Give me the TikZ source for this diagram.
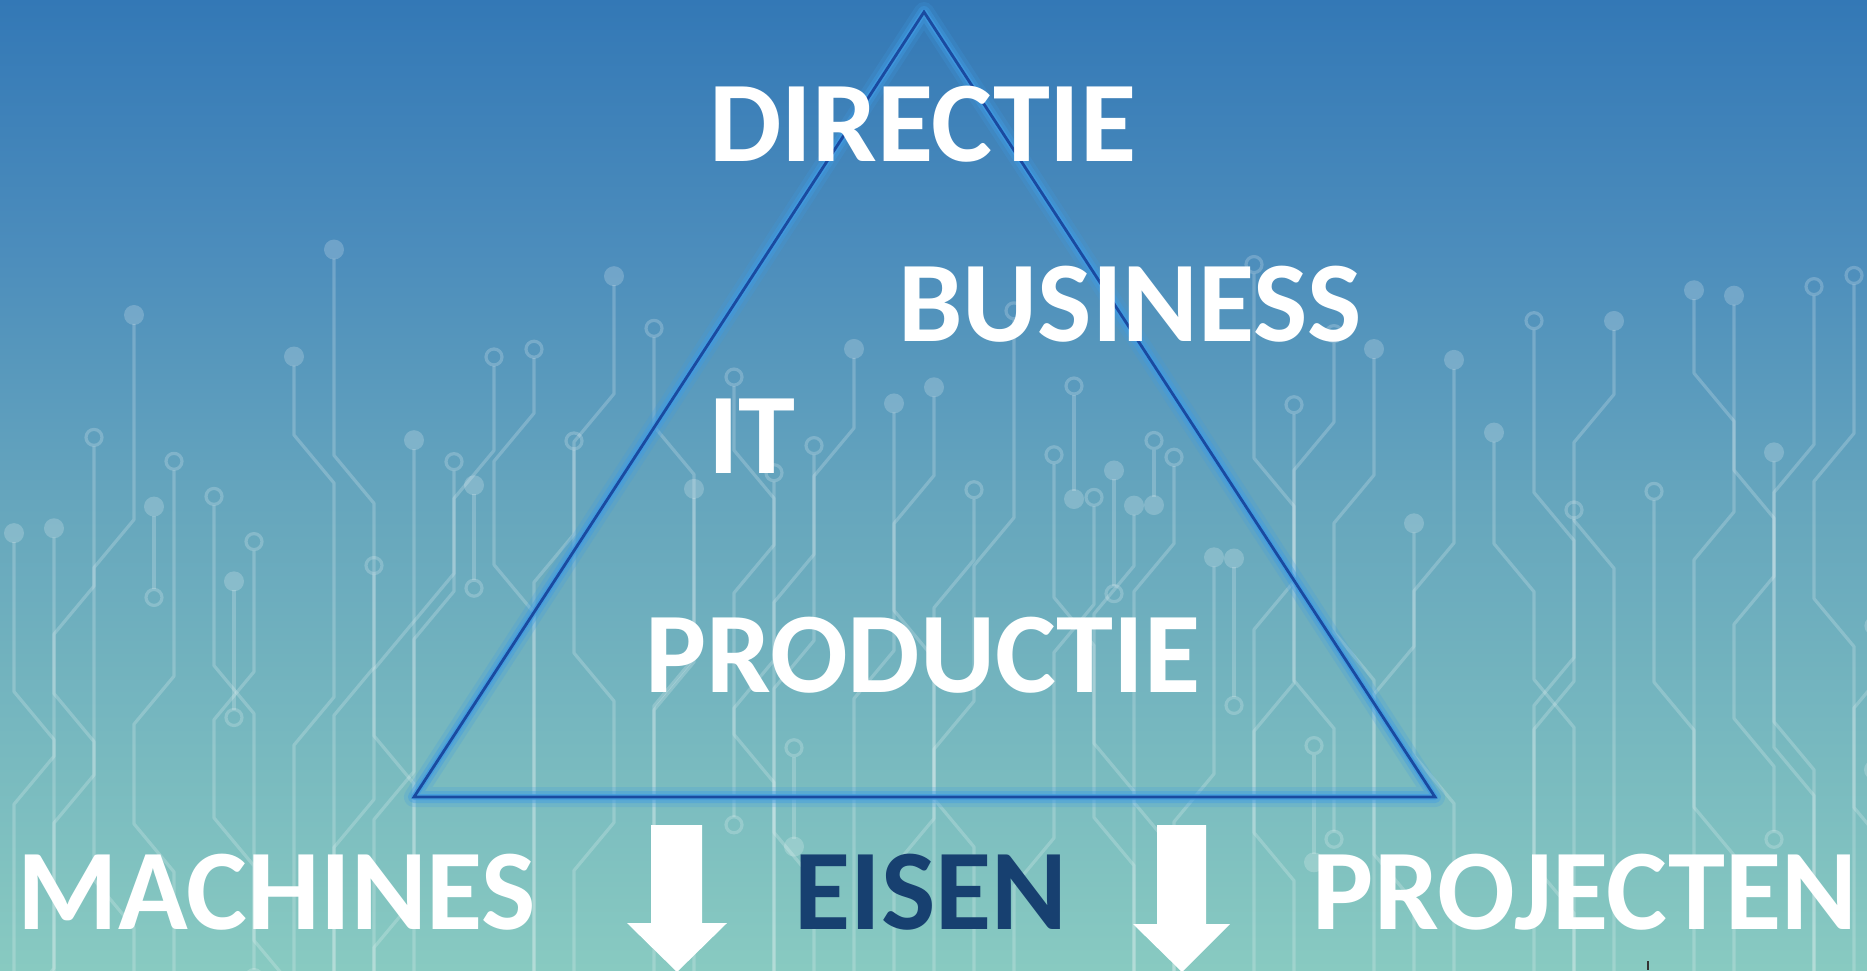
\documentclass[tikz,border=0pt]{standalone}
\usepackage{fontspec}
\setmainfont{Carlito}
\definecolor{ctop}{RGB}{51,120,182}
\definecolor{cup}{RGB}{76,141,188}
\definecolor{cmid}{RGB}{102,166,189}
\definecolor{cbot}{RGB}{136,202,193}
\definecolor{glowblue}{RGB}{63,155,227}
\definecolor{corblue}{RGB}{26,74,160}
\definecolor{eisenblue}{RGB}{23,64,112}
\pgfdeclareverticalshading{bgshade}{100bp}{color(0bp)=(cbot); color(25bp)=(cbot); color(49bp)=(cmid); color(62bp)=(cup); color(75bp)=(ctop); color(100bp)=(ctop)}
\tikzset{
  trace/.style={draw=white, draw opacity=0.2, line width=1.6pt, line join=round},
  dot/.style={fill=white, fill opacity=0.2},
  lbl/.style={font=\fontsize{57.5}{60}\selectfont\bfseries, text=white, inner sep=0pt},
  glow/.style={draw=glowblue, line join=round, line cap=round},
  arrowfill/.style={fill=white}
}
\begin{document}
\begin{tikzpicture}[x=0.5pt, y=-0.5pt]
\useasboundingbox (0,0) rectangle (1867,970);
\fill[shading=bgshade] (0,0) rectangle (1867,970);
% circuit board traces
\begin{scope}
\clip (0,0) rectangle (1867,970);
\pgfmathsetseed{4217}
\foreach \i in {0,...,47}{
  \pgfmathsetmacro\xa{14+40*\i}
  \pgfmathsetmacro\ys{240+rnd*330}
  \pgfmathsetmacro\ya{\ys+60+rnd*170}
  \pgfmathsetmacro\dir{rnd<0.5 ? -1 : 1}
  \pgfmathsetmacro\xb{\xa+\dir*40}
  \pgfmathsetmacro\yb{\ya+48}
  \pgfmathsetmacro\yc{\yb+60+rnd*170}
  \pgfmathsetmacro\dirb{rnd<0.5 ? -1 : 1}
  \pgfmathsetmacro\xc{\xb+\dirb*40}
  \pgfmathsetmacro\yd{\yc+48}
  \pgfmathtruncatemacro\kind{rnd<0.5}
  \pgfmathtruncatemacro\ends{rnd<0.3}
  \pgfmathsetmacro\ye{\ends==1 ? \yd+40+rnd*120 : 990}
  \draw[trace] (\xa,\ys+9) -- (\xa,\ya) -- (\xb,\yb) -- (\xb,\yc) -- (\xc,\yd) -- (\xc,\ye);
  \ifnum\kind=1
    \fill[dot] (\xa,\ys) circle[radius=10];
  \else
    \draw[trace] (\xa,\ys) circle[radius=8];
  \fi
  \ifnum\ends=1
    \draw[trace] (\xc,\ye+8) circle[radius=8];
  \fi
  \pgfmathtruncatemacro\dostub{rnd<0.35}
  \ifnum\dostub=1
    \pgfmathsetmacro\sx{34+40*\i}
    \pgfmathsetmacro\sy{320+rnd*520}
    \pgfmathsetmacro\sl{60+rnd*100}
    \pgfmathtruncatemacro\skind{rnd<0.5}
    \draw[trace] (\sx,\sy+9) -- (\sx,\sy+\sl-8);
    \ifnum\skind=1
      \fill[dot] (\sx,\sy) circle[radius=10];
      \draw[trace] (\sx,\sy+\sl) circle[radius=8];
    \else
      \draw[trace] (\sx,\sy) circle[radius=8];
      \fill[dot] (\sx,\sy+\sl) circle[radius=10];
    \fi
  \fi
}
\end{scope}
% triangle
\coordinate (apex) at (924,12);
\coordinate (bl) at (414,797);
\coordinate (br) at (1435,797);
\draw[glow, line width=10pt, draw opacity=0.22] (apex) -- (bl) -- (br) -- cycle;
\draw[glow, line width=6pt, draw opacity=0.4] (apex) -- (bl) -- (br) -- cycle;
\draw[glow, line width=3pt, draw opacity=0.7] (apex) -- (bl) -- (br) -- cycle;
\draw[draw=corblue, line width=1.4pt, line join=miter] (apex) -- (bl) -- (br) -- cycle;
% labels
\node[lbl] (directie) at (923,124) {DIRECTIE};
\node[lbl] (business) at (1130,304) {BUSINESS};
\node[lbl] (it) at (752,436) {IT};
\node[lbl] (productie) at (923,655) {PRODUCTIE};
\node[lbl] (machines) at (277,892) {MACHINES};
\node[lbl, text=eisenblue] (eisen) at (931,892) {EISEN};
\node[lbl] (projecten) at (1585,892) {PROJECTEN};
% arrows
\fill[arrowfill] (651,825) -- (702,825) -- (702,923) -- (727,923) -- (677,972) -- (627,923) -- (651,923) -- cycle;
\fill[arrowfill] (1157,825) -- (1206,825) -- (1206,924) -- (1230,924) -- (1182,972) -- (1133,924) -- (1157,924) -- cycle;
% small mark
\draw[draw=black!80, line width=1pt] (1648,961) -- (1648,970);
\end{tikzpicture}
\end{document}
